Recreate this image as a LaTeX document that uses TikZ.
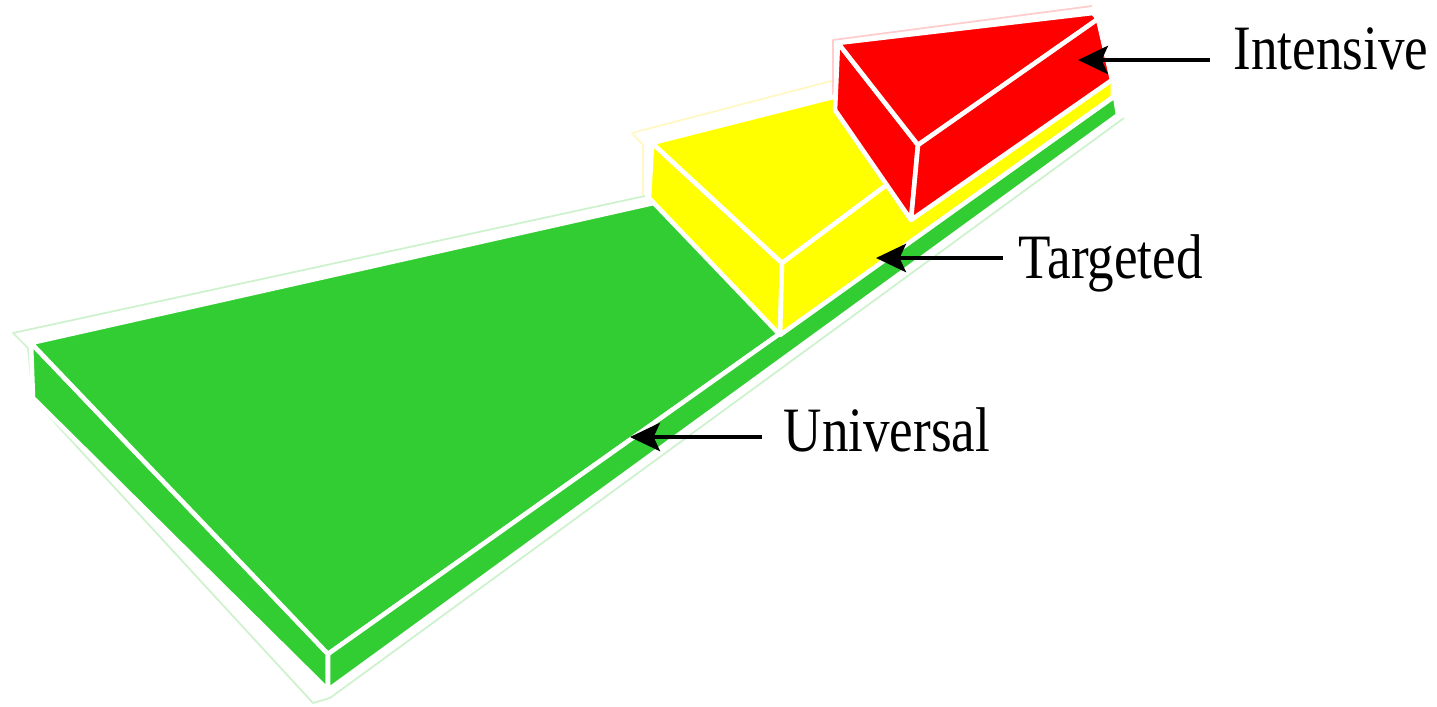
\documentclass[tikz,border=0pt]{standalone}
\usepackage{fontspec}
\setmainfont{Liberation Serif}
\usetikzlibrary{arrows.meta}
\definecolor{gfill}{RGB}{50,205,50}
\definecolor{yfill}{RGB}{255,255,0}
\definecolor{rfill}{RGB}{255,0,0}
\definecolor{gline}{RGB}{205,242,205}
\definecolor{yline}{RGB}{255,248,195}
\definecolor{rline}{RGB}{255,205,205}
\tikzset{
  face/.style={draw=white, line width=1.3pt, line join=round},
  halo/.style={line width=0.5pt, line join=round},
  arr/.style={draw=black, line width=1.3pt, -{Stealth[length=8.5pt,width=8pt,inset=1.8pt]}},
  lbl/.style={inner sep=0pt, anchor=base west, font=\fontsize{15.1}{18}\selectfont}
}
\begin{document}
\begin{tikzpicture}[x=0.01cm,y=-0.01cm]
\useasboundingbox (0,0) rectangle (1437,707);
% faint outer outlines
\draw[halo, gline] (645,196) -- (13,333) -- (28,348) -- (33,399) -- (313,703) -- (330,698) -- (1124,118);
\draw[halo, yline] (643,195) -- (643,145) -- (632,133) -- (835,80);
\draw[halo, rline] (833,110) -- (833,40) -- (1092,6);
% green slab
\coordinate (G1) at (31,343);
\coordinate (G5) at (33,398);
\coordinate (G2) at (328,654);
\coordinate (G6) at (328,690);
\coordinate (G3) at (1115,96);
\coordinate (G7) at (1118,115);
\filldraw[face, fill=gfill] (G1) -- (G5) -- (G6) -- (G2) -- cycle;
\filldraw[face, fill=gfill] (G1) -- (G2) -- (G3) -- (1000,125) -- (645,205) -- cycle;
\filldraw[face, fill=gfill] (G2) -- (G6) -- (G7) -- (G3) -- cycle;
% yellow block
\coordinate (Ya) at (652,143);
\coordinate (Yb) at (649,198);
\coordinate (Yc) at (782,263);
\coordinate (Yd) at (780,335);
\coordinate (Ye) at (900,80);
\coordinate (Yf) at (900,175);
\coordinate (Yg) at (1113,97);
\coordinate (Yh) at (1113,75);
\filldraw[face, fill=yfill] (Ya) -- (Yb) -- (Yd) -- (Yc) -- cycle;
\filldraw[face, fill=yfill] (Ya) -- (Ye) -- (Yf) -- (Yc) -- cycle;
\filldraw[face, fill=yfill] (Yc) -- (Yd) -- (Yg) -- (Yh) -- (1000,100) -- (Yf) -- cycle;
% red block
\coordinate (Ra) at (838,43);
\coordinate (Rb) at (835,110);
\coordinate (Rc) at (918,145);
\coordinate (Rd) at (911,220);
\coordinate (Re) at (1093,13);
\coordinate (Rf) at (1098,19);
\coordinate (Rg) at (1112,80);
\filldraw[face, fill=rfill] (Ra) -- (Rb) -- (Rd) -- (Rc) -- cycle;
\filldraw[face, fill=rfill] (Ra) -- (Re) -- (Rf) -- (Rc) -- cycle;
\filldraw[face, fill=rfill] (Rc) -- (Rd) -- (Rg) -- (Rf) -- cycle;
% labels
\node[lbl] (intensive) at (1233,70) {\scalebox{1}[1.19]{Intensive}};
\node[lbl] (targeted) at (1018,279) {\scalebox{1}[1.19]{Targeted}};
\node[lbl] (universal) at (783,452) {\scalebox{1}[1.19]{Universal}};
\coordinate (iT) at (1078,60);
\coordinate (tT) at (876,258);
\coordinate (uT) at (630,437);
\draw[arr, shorten <=6.5pt] (intensive.west |- iT) -- (iT);
\draw[arr, shorten <=4.3pt] (targeted.west |- tT) -- (tT);
\draw[arr, shorten <=6pt] (universal.west |- uT) -- (uT);
\end{tikzpicture}
\end{document}
